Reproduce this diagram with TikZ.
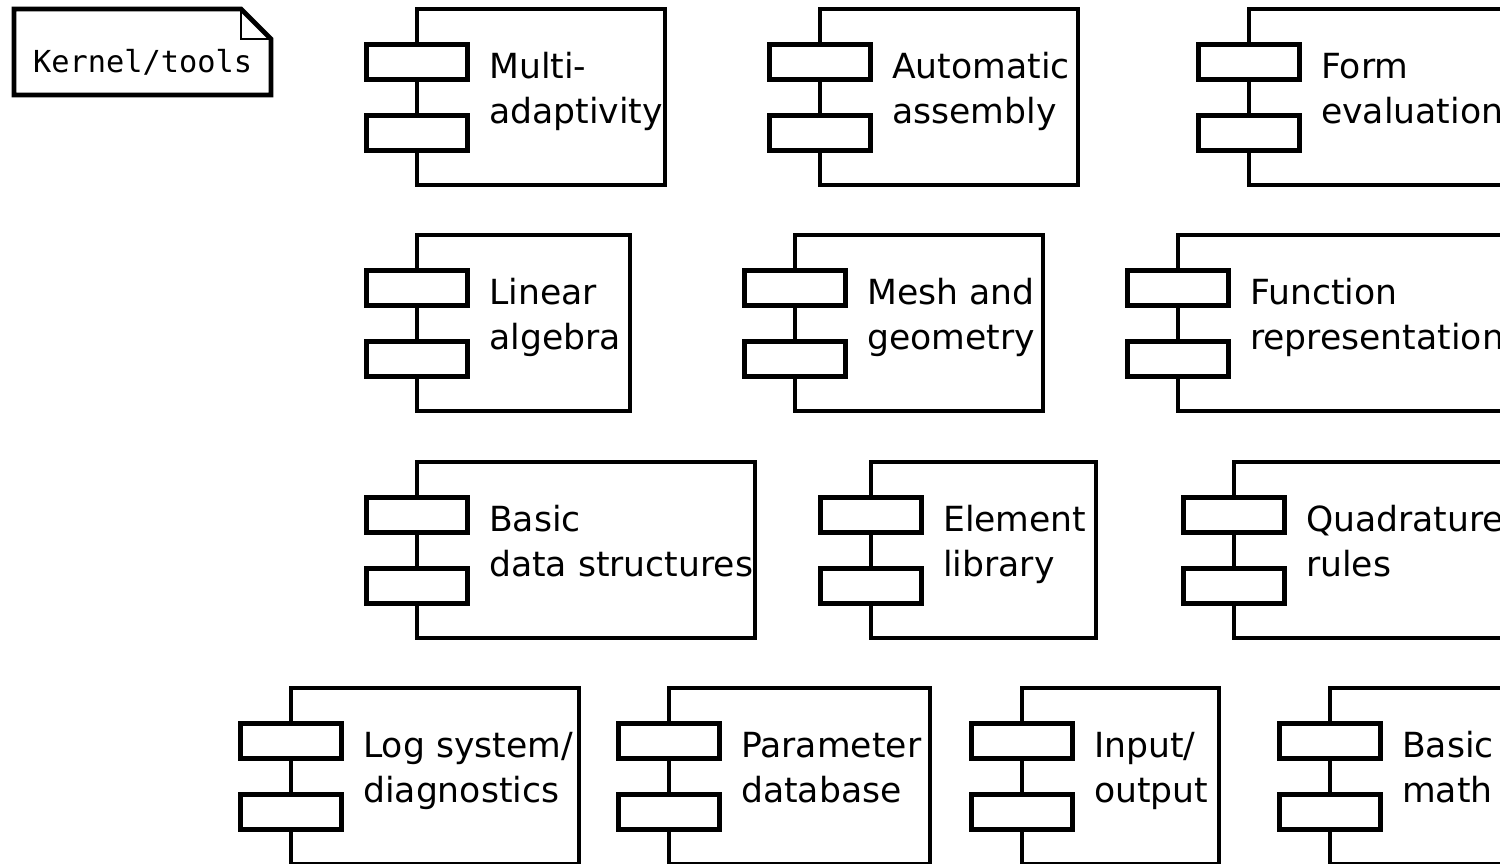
\documentclass[tikz,border=0pt]{standalone}
\usepackage{fontspec}
\setmainfont{DejaVu Sans}
\newfontfamily\monof{DejaVu Sans Mono}
\tikzset{
  x=1pt,y=-1pt,
  mainbox/.style={draw,line width=4.8pt,minimum height=176pt,inner sep=0pt,fill=white},
  port/.style={draw,line width=4.8pt,minimum width=101pt,minimum height=35pt,inner sep=0pt,fill=white},
  lbl/.style={anchor=base west,inner sep=0pt,align=left,font=\fontsize{34.6}{45}\selectfont},
}
\newcommand\comp[6]{%
  \node[mainbox,minimum width=#4] (#1) at ({#2+#4/2},{#3+88}) {};
  \node[port] (#1p1) at (#2,{#3+53}) {};
  \node[port] (#1p2) at (#2,{#3+124}) {};
  \node[lbl] (#1t) at ({#2+72},{#3+114}) {#5\\#6};
}
\begin{document}
\begin{tikzpicture}
\useasboundingbox (0,0) rectangle (1500,863);
\clip (0,0) rectangle (1500,863);
\fill[white] (0,0) rectangle (1500,863);
% note
\draw[line width=4.8pt,line join=miter] (14,9) -- (241,9) -- (271,39) -- (271,95) -- (14,95) -- cycle;
\draw[line width=2.5pt] (241,9) -- (241,39) -- (271,39);
\node[anchor=base west,inner sep=0pt,font=\monof\fontsize{30.3}{35}\selectfont] (note) at (33,72) {Kernel/tools};
% row 1
\comp{ma}{417}{9}{248}{Multi-}{adaptivity}
\comp{aa}{820}{9}{258}{Automatic}{assembly}
\comp{fe}{1249}{9}{300}{Form}{evaluation}
% row 2
\comp{la}{417}{235}{213}{Linear}{algebra}
\comp{mg}{795}{235}{248}{Mesh and}{geometry}
\comp{fr}{1178}{235}{350}{Function}{representation}
% row 3
\comp{bd}{417}{462}{338}{Basic}{data structures}
\comp{el}{871}{462}{225}{Element}{library}
\comp{qr}{1234}{462}{300}{Quadrature}{rules}
% row 4
\comp{ls}{291}{688}{288}{Log system/}{diagnostics}
\comp{pd}{669}{688}{261}{Parameter}{database}
\comp{io}{1022}{688}{197}{Input/}{output}
\comp{bm}{1330}{688}{200}{Basic}{math}
\end{tikzpicture}
\end{document}
